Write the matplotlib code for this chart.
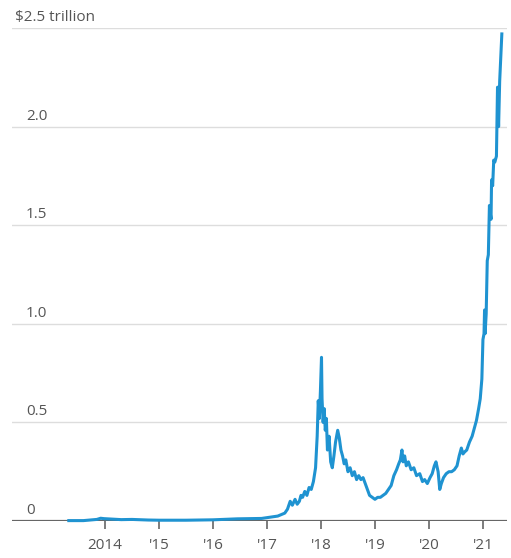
import numpy as np
import matplotlib
matplotlib.use("Agg")
import matplotlib.pyplot as plt

# total crypto market value, trillions of dollars
years = [2013.33, 2013.6, 2013.85, 2013.92, 2013.98, 2014.1, 2014.3, 2014.5, 2014.8,
         2015.0, 2015.5, 2016.0, 2016.45, 2016.9, 2017.0, 2017.2, 2017.33, 2017.38,
         2017.43, 2017.47, 2017.52, 2017.56, 2017.6, 2017.63, 2017.66, 2017.7, 2017.74,
         2017.78, 2017.82, 2017.86, 2017.9, 2017.93, 2017.95, 2017.97, 2017.99, 2018.01,
         2018.02, 2018.04, 2018.06, 2018.08, 2018.1, 2018.12, 2018.15, 2018.18, 2018.21,
         2018.24, 2018.27, 2018.31, 2018.34, 2018.37, 2018.4, 2018.43, 2018.46, 2018.5,
         2018.54, 2018.58, 2018.62, 2018.66, 2018.7, 2018.74, 2018.78, 2018.82, 2018.86,
         2018.9, 2018.95, 2019.0, 2019.05, 2019.1, 2019.15, 2019.2, 2019.25, 2019.3,
         2019.35, 2019.4, 2019.44, 2019.47, 2019.5, 2019.52, 2019.55, 2019.58, 2019.62,
         2019.67, 2019.72, 2019.77, 2019.83, 2019.88, 2019.92, 2019.97, 2020.02, 2020.06,
         2020.1, 2020.13, 2020.17, 2020.2, 2020.23, 2020.27, 2020.32, 2020.37, 2020.42,
         2020.47, 2020.52, 2020.56, 2020.6, 2020.63, 2020.66, 2020.7, 2020.75, 2020.8,
         2020.84, 2020.88, 2020.92, 2020.95, 2020.98, 2021.0, 2021.02, 2021.03, 2021.04,
         2021.06, 2021.08, 2021.1, 2021.12, 2021.14, 2021.15, 2021.16, 2021.18, 2021.2,
         2021.22, 2021.25, 2021.27, 2021.28, 2021.29, 2021.31, 2021.33, 2021.35]
values = [0.002, 0.002, 0.008, 0.014, 0.012, 0.010, 0.007, 0.008, 0.005,
          0.004, 0.004, 0.006, 0.011, 0.013, 0.017, 0.025, 0.04, 0.06,
          0.10, 0.08, 0.11, 0.085, 0.10, 0.13, 0.12, 0.15, 0.13,
          0.17, 0.16, 0.20, 0.27, 0.43, 0.61, 0.52, 0.66, 0.83,
          0.62, 0.50, 0.57, 0.46, 0.52, 0.36, 0.43, 0.30, 0.27,
          0.33, 0.40, 0.46, 0.42, 0.36, 0.33, 0.29, 0.31, 0.25,
          0.27, 0.23, 0.25, 0.21, 0.23, 0.21, 0.22, 0.19, 0.16,
          0.13, 0.12, 0.11, 0.12, 0.12, 0.13, 0.14, 0.16, 0.18,
          0.23, 0.26, 0.29, 0.31, 0.36, 0.30, 0.33, 0.28, 0.30,
          0.26, 0.27, 0.23, 0.24, 0.20, 0.21, 0.19, 0.22, 0.24,
          0.28, 0.30, 0.25, 0.16, 0.19, 0.22, 0.24, 0.25, 0.25,
          0.26, 0.28, 0.33, 0.37, 0.34, 0.35, 0.36, 0.40, 0.43,
          0.47, 0.51, 0.57, 0.62, 0.72, 0.92, 0.95, 1.07, 0.95,
          1.05, 1.32, 1.35, 1.60, 1.55, 1.53, 1.73, 1.70, 1.83,
          1.82, 1.85, 2.20, 2.10, 2.00, 2.23, 2.35, 2.47]

yticks = [0, 0.5, 1.0, 1.5, 2.0, 2.5]
ytick_labels = ["0", "0.5", "1.0", "1.5", "2.0", "$2.5 trillion"]
xticks = [2014, 2015, 2016, 2017, 2018, 2019, 2020, 2021]
xtick_labels = ["2014", "'15", "'16", "'17", "'18", "'19", "'20", "'21"]

plt.rcParams["font.family"] = ["Open Sans", "DejaVu Sans"]
text_col = "#555555"

fig = plt.figure(figsize=(5.11, 5.58), dpi=100)
ax = fig.add_axes([0.0235, 0.0663, 0.9685, 0.8835])
ax.set_xlim(2012.278, 2021.444)
ax.set_ylim(0, 2.5)

for y in yticks[1:]:
    ax.axhline(y, color="#dddddd", lw=1.0, zorder=1)
ax.axhline(0, color="#666666", lw=1.6, zorder=3)

ax.plot(years, values, color="#1f93d1", lw=2.2, zorder=4, clip_on=False,
        solid_joinstyle="round")

for y, lab in zip(yticks, ytick_labels):
    # the "$" hangs to the left so the numbers line up
    dx = 3 if lab.startswith("$") else 14
    ax.annotate(lab, xy=(0, y), xycoords=("axes fraction", "data"),
                xytext=(dx, 3), textcoords="offset pixels",
                ha="left", va="bottom", fontsize=11, color=text_col)

ax.set_xticks(xticks)
ax.set_xticklabels(xtick_labels, fontsize=11, color=text_col)
ax.tick_params(axis="x", length=6, width=1.2, color="#666666", pad=6)
ax.set_yticks([])
for s in ax.spines.values():
    s.set_visible(False)

fig.savefig("out.png", dpi=100)
